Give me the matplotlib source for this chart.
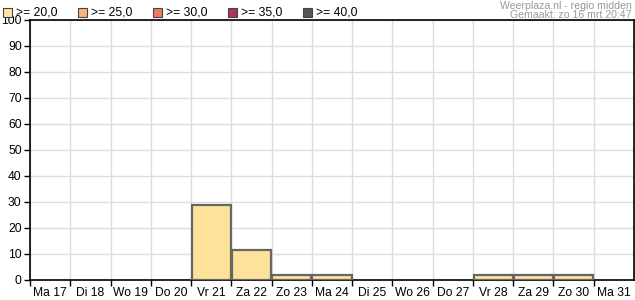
import matplotlib.pyplot as plt
from matplotlib.patches import Rectangle

plt.rcParams["font.family"] = ["Liberation Sans", "DejaVu Sans"]

days = ["Ma 17", "Di 18", "Wo 19", "Do 20", "Vr 21", "Za 22", "Zo 23", "Ma 24",
        "Di 25", "Wo 26", "Do 27", "Vr 28", "Za 29", "Zo 30", "Ma 31"]
values = [0, 0, 0, 0, 29, 11.5, 2, 2, 0, 0, 0, 2, 2, 2, 0]
legend_labels = [">= 20,0", ">= 25,0", ">= 30,0", ">= 35,0", ">= 40,0"]
legend_colors = ["#FFE6A0", "#FFB377", "#EE7766", "#B03060", "#555555"]
bar_color = "#FFE29A"

fig = plt.figure(figsize=(6.35, 3.0), dpi=100)
ax = fig.add_axes([30 / 635, 20 / 300, 604 / 635, 260 / 300])

n = len(days)
xs = list(range(n))
for x, v in zip(xs, values):
    if v <= 0:
        continue
    ax.bar(x + 0.5, v, width=0.97, color=bar_color, edgecolor="#666666",
           linewidth=1.6, zorder=3)

ax.set_xlim(0, n)
ax.set_ylim(0, 100)
ax.set_yticks(range(0, 101, 10))
ax.set_xticks(range(0, n))
ax.set_xticks([i + 0.5 for i in xs], minor=True)
ax.set_xticklabels([])
ax.set_xticklabels(days, minor=True)
ax.tick_params(axis="x", which="major", length=4, width=1, color="black")
ax.tick_params(axis="x", which="minor", length=0, pad=5, labelsize=8.7)
ax.tick_params(axis="y", length=4, width=1, labelsize=8.7, pad=2)
ax.grid(True, which="major", color="#DDDDDD", linewidth=1, zorder=0)
ax.set_axisbelow(True)
for s in ax.spines.values():
    s.set_color("black")
    s.set_linewidth(1.2)

# legend along the top
for i, (lab, col) in enumerate(zip(legend_labels, legend_colors)):
    x0 = 3 + i * 75
    fig.add_artist(Rectangle((x0 / 635, (300 - 17) / 300), 9 / 635, 9 / 300,
                             facecolor=col, edgecolor="#444444", linewidth=0.8,
                             transform=fig.transFigure))
    fig.text((x0 + 13) / 635, (300 - 12.5) / 300, lab, fontsize=8.7,
             va="center", ha="left")

fig.text(632 / 635, 1 - 9 / 300, "Weerplaza.nl - regio midden", fontsize=7.6,
         color="#999999", ha="right", va="baseline")
fig.text(632 / 635, 1 - 18.5 / 300, "Gemaakt: zo 16 mrt 20:47", fontsize=7.6,
         color="#999999", ha="right", va="baseline")

fig.savefig("out.png", dpi=100)
